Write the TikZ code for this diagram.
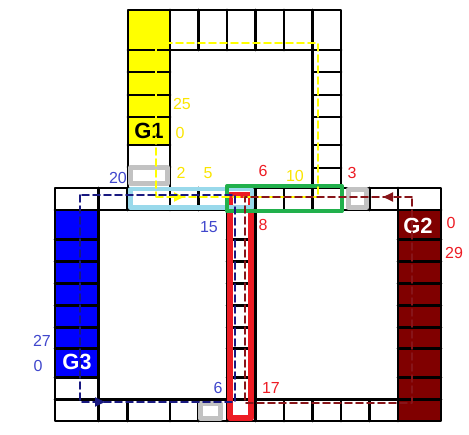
\documentclass[tikz,border=0pt]{standalone}
\usepackage{fontspec}
\setmainfont{Liberation Sans}
\usetikzlibrary{arrows.meta,decorations.markings}
\definecolor{boardyellow}{rgb}{1,1,0}
\definecolor{boardblue}{rgb}{0,0,1}
\definecolor{boardmaroon}{rgb}{0.5,0,0}
\definecolor{txtyellow}{rgb}{0.98,0.9,0}
\definecolor{txtred}{rgb}{0.93,0.11,0.14}
\definecolor{txtblue}{rgb}{0.25,0.28,0.8}
\definecolor{pathnavy}{rgb}{0.1,0.1,0.5}
\definecolor{pathmaroon}{rgb}{0.53,0.08,0.1}
\definecolor{boxgray}{rgb}{0.76,0.76,0.76}
\definecolor{boxcyan}{rgb}{0.6,0.85,0.92}
\definecolor{boxgreen}{rgb}{0.13,0.69,0.3}
\definecolor{boxred}{rgb}{0.93,0.11,0.14}

\begin{document}
\begin{tikzpicture}[line cap=round,line join=round,x=1pt,y=-1pt,
  cell/.style={line width=2.8pt},
  safe/.style={draw=boxgray,fill=white,line width=5pt,line cap=rect},
  num/.style={inner sep=0pt,font=\fontsize{16}{16}\selectfont},
  home/.style={inner sep=0pt,font=\fontsize{22}{22}\selectfont\bfseries},
  track/.style={line width=1.8pt,dash pattern=on 7pt off 4pt},
  tip/.style={postaction={decorate},decoration={markings,
      mark=at position #1 with {\arrow{Triangle[length=10pt,width=9pt]}}}}]
\useasboundingbox (0,0) rectangle (469,435);
% coloured cells
\fill[boardyellow] (128,10) rectangle (170,145);
\fill[boardblue] (55,210) rectangle (98.5,377.5);
\fill[boardmaroon] (398,210) rectangle (441,421);
% upper loop
\draw[cell] (128,10) rectangle (341,188);
\draw[cell] (128,50) -- (341,50);
\draw[cell] (170,10) -- (170,188);
\draw[cell] (312.5,10) -- (312.5,188);
\foreach \x in {198.5,227,255.5,284}
  \draw[cell] (\x,10) -- (\x,50);
\foreach \y in {72,95,117,145,167}
  \draw[cell] (128,\y) -- (170,\y);
\foreach \y in {72,95,117,145,168}
  \draw[cell] (312.5,\y) -- (341,\y);
% big frame
\draw[cell] (55,188) rectangle (441,421);
\draw[cell] (55,210) -- (441,210);
\draw[cell] (55,399.5) -- (441,399.5);
\foreach \x in {98.5,227,255.5,398}
  \draw[cell] (\x,188) -- (\x,421);
\foreach \x in {127.5,170,198.5,284,312.5,341,369.5}
  \draw[cell] (\x,188) -- (\x,210) (\x,399.5) -- (\x,421);
\foreach \y in {239.5,261.5,283.5,305.5,327.5,348.5,377.5}
  \draw[cell] (55,\y) -- (98.5,\y) (227,\y) -- (255.5,\y) (398,\y) -- (441,\y);
% grey cells
\draw[safe] (130.5,167.5) rectangle (167.5,183.5);
\draw[safe] (348.5,189.5) rectangle (366.5,207.5);
\draw[safe] (200.5,403.5) rectangle (220.5,418.5);
% marked boxes
\draw[boxred,line width=6pt] (230,195) rectangle (251,418);
\draw[boxcyan,line width=4.5pt] (130.25,189.25) rectangle (251.75,207.75);
\draw[boxgreen,line width=4pt] (227,186) rectangle (342,211);
% homes
\node[home,text=black] (G1) at (149,131) {G1};
\node[home,text=white] (G2) at (418,226) {G2};
\node[home,text=white] (G3) at (77,362) {G3};
% tracks
\coordinate (ya) at (156,197);
\coordinate (yb) at (318,197);
\coordinate (yc) at (318,43);
\coordinate (yd) at (156,43);
\coordinate (ba) at (80,195);
\coordinate (bb) at (80,402);
\coordinate (bc) at (235,402);
\coordinate (bd) at (235,195);
\coordinate (ra) at (412,197);
\coordinate (rb) at (245,197);
\coordinate (rc) at (245,403);
\coordinate (rd) at (412,403);
\draw[track,boardyellow,tip=28pt] (ya) -- (yb) -- (yc) -- (yd) -- cycle;
\draw[track,pathnavy,tip=232pt] (ba) -- (bb) -- (bc) -- (bd) -- cycle;
\draw[track,pathmaroon,tip=29pt] (ra) -- (rb) -- (rc) -- (rd) -- cycle;
% numbers
\node[num,text=txtyellow] (y25) at (182,104) {25};
\node[num,text=txtyellow] (y0) at (180,133) {0};
\node[num,text=txtyellow] (y2) at (181,173) {2};
\node[num,text=txtyellow] (y5) at (208,173) {5};
\node[num,text=txtyellow] (y10) at (295,176) {10};
\node[num,text=txtblue] (b20) at (118,178) {20};
\node[num,text=txtblue] (b15) at (209,227) {15};
\node[num,text=txtblue] (b27) at (42,341) {27};
\node[num,text=txtblue] (b0) at (38,366) {0};
\node[num,text=txtblue] (b6) at (218,388) {6};
\node[num,text=txtred] (r6) at (263,171) {6};
\node[num,text=txtred] (r3) at (352,173) {3};
\node[num,text=txtred] (r8) at (263,225) {8};
\node[num,text=txtred] (r0) at (451,223) {0};
\node[num,text=txtred] (r29) at (454,253) {29};
\node[num,text=txtred] (r17) at (271,388) {17};
\end{tikzpicture}
\end{document}
